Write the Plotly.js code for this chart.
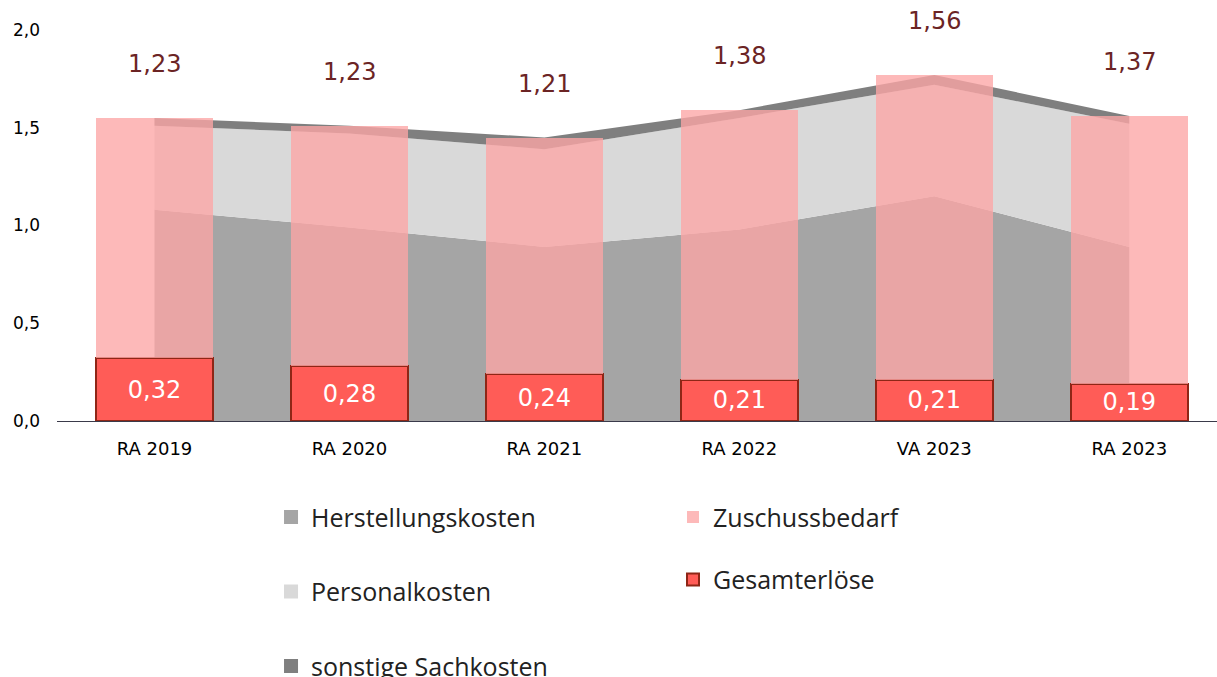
<!DOCTYPE html>
<html>
<head>
<meta charset="utf-8">
<script src="https://cdn.plot.ly/plotly-3.0.1.min.js"></script>
<style>html,body{margin:0;padding:0;background:#fff;}#chart{width:1217px;height:677px;}</style>
</head>
<body>
<div id="chart"></div>
<script>
const categories = ["RA 2019", "RA 2020", "RA 2021", "RA 2022", "VA 2023", "RA 2023"];
const herstellungskosten = [1.08, 0.99, 0.89, 0.98, 1.15, 0.89];
const personalkosten = [0.43, 0.48, 0.50, 0.57, 0.57, 0.63];
const sonstigeSachkosten = [0.04, 0.04, 0.06, 0.04, 0.05, 0.04];
const gesamterloese = [0.32, 0.28, 0.24, 0.21, 0.21, 0.19];
const zuschussbedarf = [1.23, 1.23, 1.21, 1.38, 1.56, 1.37];
const yTicks = [0, 0.5, 1.0, 1.5, 2.0];

const FONT = "DejaVu Sans";
const LEGFONT = "Open Sans";

const areaNames = ["Herstellungskosten", "Personalkosten", "sonstige Sachkosten"];
const areaValues = [herstellungskosten, personalkosten, sonstigeSachkosten];
const areaColors = ["#a5a5a5", "#d9d9d9", "#7f7f7f"];

const traces = [];
areaNames.forEach((n, i) => {
  traces.push({type: "scatter", mode: "none", stackgroup: "kosten", x: categories, y: areaValues[i],
    fillcolor: areaColors[i], xaxis: "x", yaxis: "y", hoverinfo: "skip", showlegend: false, name: n});
});
// legend entries for the areas (square swatches)
areaNames.forEach((n, i) => {
  traces.push({type: "scatter", mode: "markers", x: [null], y: [null], name: n, xaxis: "x", yaxis: "y",
    marker: {symbol: "square", size: 14, color: areaColors[i]}, legend: "legend", legendgroup: "a" + i, legendrank: i + 1});
});
traces.push({
  type: "bar", name: "Gesamterlöse", x: categories, y: gesamterloese, xaxis: "x2", yaxis: "y2",
  marker: {color: "#ff5c57", line: {color: "#8e2616", width: 2}},
  texttemplate: "%{y:.2f}", textposition: "inside", insidetextanchor: "middle", textangle: 0,
  textfont: {color: "#ffffff", size: 24, family: FONT}, constraintext: "none",
  legend: "legend2", legendgroup: "b2", legendrank: 2, hoverinfo: "skip"
});
traces.push({
  type: "bar", name: "Zuschussbedarf", x: categories, y: zuschussbedarf, xaxis: "x2", yaxis: "y2",
  marker: {color: "rgba(252,165,165,0.78)", line: {width: 0}},
  legend: "legend2", legendgroup: "b1", legendrank: 1, hoverinfo: "skip"
});

const annotations = categories.map((c, i) => ({
  x: c, y: gesamterloese[i] + zuschussbedarf[i], xref: "x2", yref: "y2",
  text: zuschussbedarf[i].toFixed(2).replace(".", ","),
  showarrow: false, yanchor: "middle", yshift: 54,
  font: {family: FONT, size: 24, color: "#6b2424"}
}));

const layout = {
  width: 1217, height: 677,
  margin: {l: 57, r: 0, t: 30, b: 256, autoexpand: false},
  paper_bgcolor: "#ffffff", plot_bgcolor: "rgba(0,0,0,0)",
  separators: ",.",
  barmode: "stack", bargap: 0.4,
  showlegend: true,
  font: {family: FONT, color: "#000000"},
  xaxis: {
    type: "category", categoryarray: categories, range: [-0.5, 5.45], automargin: false,
    showgrid: false, zeroline: false, showline: true, linecolor: "#3a3a4a", linewidth: 1.3,
    ticks: "", tickangle: 0, tickfont: {family: FONT, size: 18, color: "#000"}, ticklabelstandoff: 11
  },
  yaxis: {
    range: [0, 2], tickvals: yTicks, tickformat: ".1f", automargin: false,
    showgrid: false, zeroline: false, showline: false, ticks: "",
    tickfont: {family: FONT, size: 17, color: "#000"}, ticklabelstandoff: 16
  },
  xaxis2: {type: "category", categoryarray: categories, range: [-0.5, 5.45], overlaying: "x", visible: false},
  yaxis2: {range: [0, 2], overlaying: "y", visible: false},
  legend: {
    xref: "container", yref: "container", x: 0.2227, y: 0.27, xanchor: "left", yanchor: "top",
    orientation: "v", traceorder: "grouped", tracegroupgap: 39,
    font: {family: LEGFONT, size: 25, color: "#222222"}, bgcolor: "rgba(0,0,0,0)"
  },
  legend2: {
    xref: "container", yref: "container", x: 0.553, y: 0.27, xanchor: "left", yanchor: "top",
    orientation: "v", traceorder: "grouped", tracegroupgap: 27,
    font: {family: LEGFONT, size: 25, color: "#222222"}, bgcolor: "rgba(0,0,0,0)"
  },
  annotations: annotations
};

Plotly.newPlot("chart", traces, layout, {displayModeBar: false, staticPlot: true});
</script>
</body>
</html>
